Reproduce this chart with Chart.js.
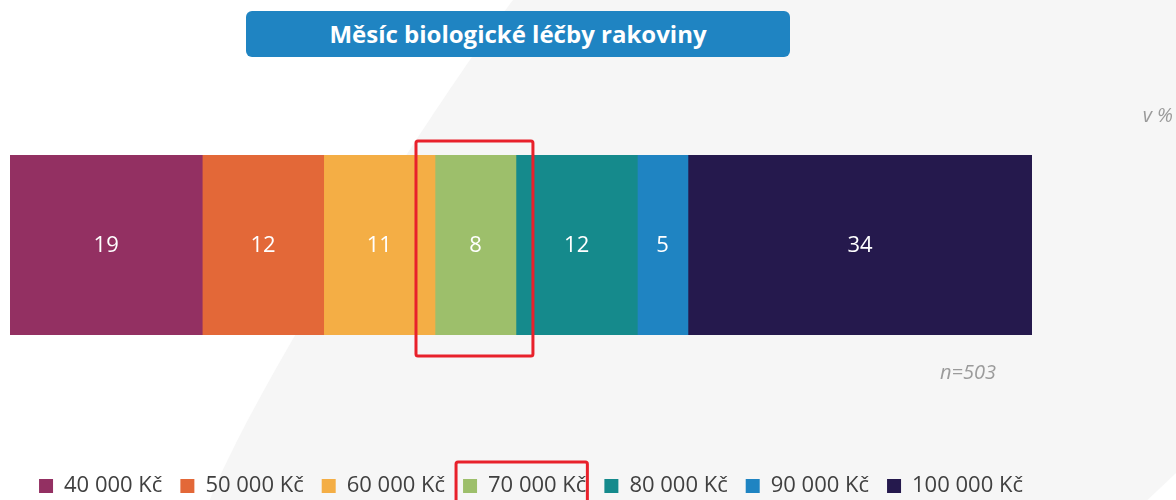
<!DOCTYPE html>
<html lang="cs">
<head>
<meta charset="utf-8">
<title>Měsíc biologické léčby rakoviny</title>
<script src="https://cdn.jsdelivr.net/npm/chart.js@4/dist/chart.umd.min.js"></script>
<style>
  html, body { margin:0; padding:0; width:1176px; height:500px; overflow:hidden; background:#fff; }
  .wrap { position:relative; width:1176px; height:507px; }
  #chart { position:absolute; left:0; top:0; }
  .title-box {
    position:absolute; left:246px; top:11px; width:544px; height:46px;
    background:#1f84c2; border-radius:6px; color:#fff;
    font:700 24px "Open Sans", sans-serif; line-height:46px; text-align:center;
  }
  .note { position:absolute; color:#9b9b9b; font:italic 20px "Open Sans", sans-serif; }
</style>
</head>
<body>
<div class="wrap">
  <canvas id="chart" width="1176" height="507"></canvas>
  <div class="title-box">Měsíc biologické léčby rakoviny</div>
  <div class="note" style="right:3px; top:101px;">v %</div>
  <div class="note" style="left:940px; top:358px;">n=503</div>
</div>
<script>
/* data */
const categories = ['Měsíc léčby'];
const seriesLabels = ['40 000 Kč', '50 000 Kč', '60 000 Kč', '70 000 Kč', '80 000 Kč', '90 000 Kč', '100 000 Kč'];
const seriesValues = [19, 12, 11, 8, 12, 5, 34];
const seriesColors = ['#933062', '#e36838', '#f4ae45', '#9dbf6b', '#158a8c', '#1f84c2', '#25194d'];
const highlightIndex = 3;

/* light gray swoosh behind everything */
const backdrop = {
  id: 'backdrop',
  beforeDraw(chart) {
    const { ctx, width, height } = chart;
    ctx.save();
    ctx.fillStyle = '#ffffff';
    ctx.fillRect(0, 0, width, height);
    ctx.fillStyle = '#f6f6f6';
    ctx.beginPath();
    ctx.moveTo(513, 0);
    ctx.bezierCurveTo(437, 100, 251, 390, 207, 507);
    ctx.lineTo(1140, 507);
    ctx.lineTo(1176, 473);
    ctx.lineTo(1176, 0);
    ctx.closePath();
    ctx.fill();
    ctx.restore();
  }
};

/* values in the middle of each segment */
const segLabels = {
  id: 'segLabels',
  afterDatasetsDraw(chart) {
    const { ctx } = chart;
    ctx.save();
    ctx.fillStyle = '#ffffff';
    ctx.font = '22px "Open Sans", sans-serif';
    ctx.textAlign = 'center';
    ctx.textBaseline = 'middle';
    chart.data.datasets.forEach((ds, i) => {
      chart.getDatasetMeta(i).data.forEach((bar, j) => {
        const mid = (bar.x + bar.base) / 2;
        ctx.fillText(String(ds.data[j]), mid, bar.y + 1);
      });
    });
    ctx.restore();
  }
};

/* red frames around the highlighted series */
const highlight = {
  id: 'highlight',
  afterDraw(chart) {
    const { ctx } = chart;
    const bar = chart.getDatasetMeta(highlightIndex).data[0];
    const hb = chart.legend.legendHitBoxes[highlightIndex];
    ctx.save();
    ctx.strokeStyle = '#e8212b';
    ctx.lineWidth = 3;
    ctx.lineJoin = 'round';
    if (bar) {
      const half = bar.height / 2;
      ctx.beginPath();
      ctx.roundRect(bar.base - 19, bar.y - half - 14, (bar.x - bar.base) + 36, bar.height + 35, 2);
      ctx.stroke();
    }
    if (hb) {
      ctx.beginPath();
      ctx.roundRect(hb.left - 7, hb.top - 13, hb.width + 8, 60, 2);
      ctx.stroke();
    }
    ctx.restore();
  }
};

const datasets = seriesLabels.map((label, i) => ({
  label,
  data: [seriesValues[i]],
  backgroundColor: seriesColors[i],
  borderWidth: 0,
  barPercentage: 1,
  categoryPercentage: 1,
}));

new Chart(document.getElementById('chart').getContext('2d'), {
  type: 'bar',
  data: { labels: categories, datasets },
  plugins: [backdrop, segLabels, highlight],
  options: {
    indexAxis: 'y',
    responsive: false,
    animation: false,
    layout: { padding: { top: 155, left: 10, right: 124, bottom: 0 } },
    plugins: {
      title: { display: false },
      tooltip: { enabled: false },
      legend: {
        position: 'bottom',
        labels: {
          color: '#404040',
          font: { size: 22, family: '"Open Sans", sans-serif' },
          boxWidth: 14, boxHeight: 14, padding: 18,
        },
      },
    },
    scales: {
      x: {
        stacked: true, min: 0, max: seriesValues.reduce((a, b) => a + b, 0),
        grid: { display: false }, border: { display: false }, ticks: { display: false },
        afterFit(scale) { scale.height = 122; },
      },
      y: {
        stacked: true, position: 'right',
        grid: { display: false }, border: { display: false }, ticks: { display: false },
        afterFit(scale) { scale.width = 20; },
      },
    },
  },
});
</script>
</body>
</html>
